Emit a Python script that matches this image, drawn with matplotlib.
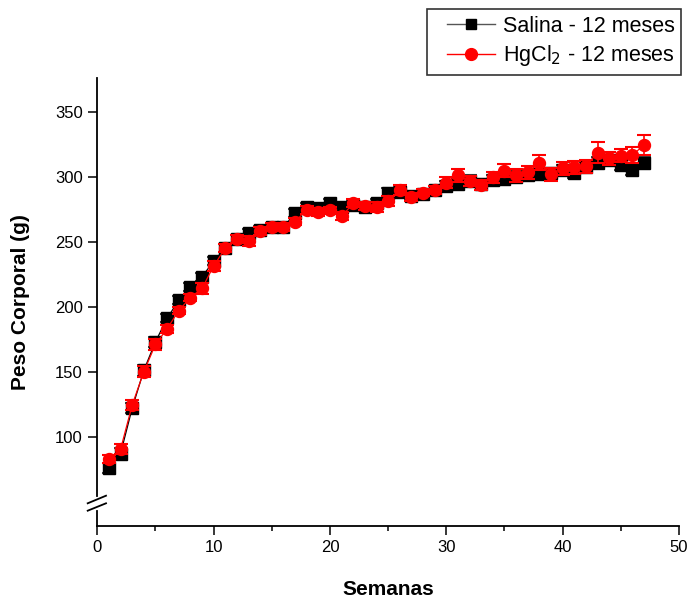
import matplotlib
matplotlib.use("Agg")
import matplotlib.pyplot as plt
from matplotlib.lines import Line2D
from matplotlib.legend_handler import HandlerLine2D
import numpy as np

plt.rcParams['font.family'] = ['Liberation Sans', 'DejaVu Sans']

weeks = list(range(1, 48))
salina = [76, 87, 122, 151, 173, 191, 205, 215, 223, 235, 245, 252, 257, 259, 261, 261,
          272, 277, 276, 279.5, 277, 278, 277, 280, 287.5, 288, 285, 287, 290, 293,
          294.5, 297, 294, 297.5, 298, 300, 301.3, 302, 303, 305, 303, 307.6, 310.8,
          313, 309, 305, 310.8]
salina_err = [4, 4, 4, 4, 4, 3, 3, 3, 3, 3, 3, 3, 3, 3, 3, 3,
              3, 3, 3, 3, 3, 3, 3, 3, 4, 4, 3, 3, 3, 4,
              4, 4, 4, 4, 4, 4, 4, 4, 4, 4, 4, 4, 4,
              4, 4, 4, 4]
hgcl2 = [83, 90.3, 124.4, 150, 171, 183, 197, 207, 214, 231.3, 245, 252, 250.5, 258, 261.5, 261,
         265.5, 274.5, 273, 274, 269.5, 279.5, 277.7, 276.5, 281.5, 289.8, 284.3, 287.8, 290, 295.5,
         301.3, 296.7, 293.6, 299.5, 304.6, 301.3, 303.4, 310.8, 302, 306.4, 307.2, 308, 318.5,
         314, 316, 316.7, 324.4]
hgcl2_err = [3, 4, 4, 4, 4, 3, 3, 3, 4, 4, 3, 3, 4, 3, 3, 3,
             3, 3, 3, 3, 3, 3, 3, 4, 4, 4, 3, 3, 3, 4,
             5, 4, 4, 4, 5, 5, 5, 6, 5, 5, 5, 5, 8,
             5, 5, 6, 8]

W, H = 688, 601
fig = plt.figure(figsize=(W / 100, H / 100), dpi=100)
ax = fig.add_axes([97.3 / W, 1 - 525.7 / H, (679 - 97.3) / W, (525.7 - 78.3) / H])

ax.errorbar(weeks, salina, yerr=salina_err, fmt='-s', color='black', lw=0.9,
            ms=8, mfc='black', mec='black', ecolor='#444444', elinewidth=1.2,
            capsize=4.8, capthick=1.5, zorder=3)
ax.errorbar(weeks, hgcl2, yerr=hgcl2_err, fmt='-o', color='red', lw=0.9,
            ms=8.6, mfc='red', mec='red', ecolor='red', elinewidth=1.2,
            capsize=4.8, capthick=1.5, zorder=4)

ax.set_xlim(0, 50)
ax.set_ylim(31.5, 375.7)
ax.set_xticks([0, 10, 20, 30, 40, 50])
ax.set_xticks([5, 15, 25, 35, 45], minor=True)
ax.set_yticks([100, 150, 200, 250, 300, 350])
ax.tick_params(axis='both', which='major', direction='out', length=6.5, width=1.1,
               labelsize=12, pad=4)
ax.tick_params(axis='x', which='minor', direction='out', length=3.5, width=1.1)
ax.tick_params(axis='y', which='minor', left=False)

for s in ['top', 'right']:
    ax.spines[s].set_visible(False)
for s in ['left', 'bottom']:
    ax.spines[s].set_linewidth(1.3)

# axis break on y
y_top_break = 100 - (496 - 436.7) / 1.3
y_bot_break = 100 - (511 - 436.7) / 1.3
ax.spines['left'].set_bounds(y_top_break, 375.7)
ax.plot([0, 0], [31.5, y_bot_break], color='black', lw=1.3,
        transform=ax.get_yaxis_transform(), clip_on=False)
for (x0, y0, x1, y1) in [(87.7, 503.3, 106, 495.7), (87.7, 510.7, 106, 503.3)]:
    fig.add_artist(Line2D([x0 / W, x1 / W], [1 - y0 / H, 1 - y1 / H],
                          color='black', lw=1.3, transform=fig.transFigure))

ax.set_xlabel('Semanas', fontsize=15, fontweight='bold', labelpad=18)
ax.set_ylabel('Peso Corporal (g)', fontsize=15, fontweight='bold', labelpad=18)

h1 = Line2D([], [], color='#555555', lw=1, marker='s', ms=7.5, mfc='black', mec='black')
h2 = Line2D([], [], color='red', lw=1, marker='o', ms=8.5, mfc='red', mec='red')
leg = fig.legend([h1, h2], ['Salina - 12 meses', 'HgCl$_2$ - 12 meses'],
                 loc='upper left', bbox_to_anchor=(427.3 / W, 1 - 9.3 / H),
                 bbox_transform=fig.transFigure, fontsize=15.5, frameon=True,
                 fancybox=False, shadow=False, borderpad=0.3, labelspacing=0.3,
                 handlelength=2.85, handletextpad=0.36, borderaxespad=0,
                 handler_map={h1: HandlerLine2D(numpoints=1, xpad=0.6),
                              h2: HandlerLine2D(numpoints=1, xpad=0.6)})
leg.get_frame().set_edgecolor('black')
leg.get_frame().set_linewidth(1.2)

fig.savefig('out.png', dpi=100)
